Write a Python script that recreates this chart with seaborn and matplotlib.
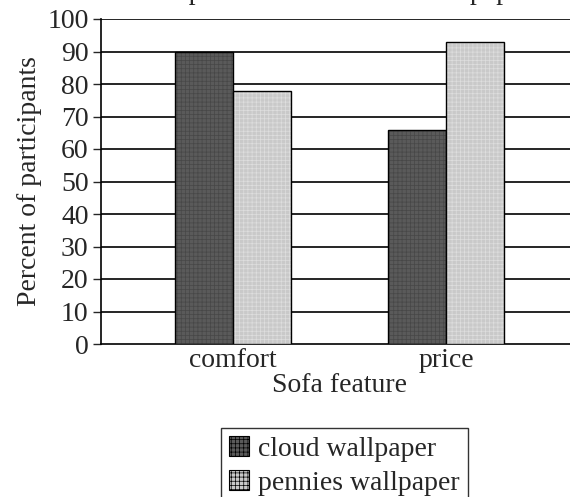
import pandas as pd
import matplotlib
matplotlib.use("Agg")
import matplotlib.pyplot as plt
import seaborn as sns

# === Data ===
features = ["comfort", "price"]
wallpapers = ["cloud wallpaper", "pennies wallpaper"]
cloud_pct = [90, 66]
pennies_pct = [78, 93]
y_ticks = list(range(0, 101, 10))

df = pd.DataFrame({
    "feature": features * 2,
    "wallpaper": [wallpapers[0]] * 2 + [wallpapers[1]] * 2,
    "percent": cloud_pct + pennies_pct,
})

# === Style ===
sns.set_style("white")
plt.rcParams["font.family"] = ["Liberation Serif", "DejaVu Serif"]
plt.rcParams["hatch.linewidth"] = 0.5
FS = 20

fig = plt.figure(figsize=(5.7, 4.97), dpi=100)
W, H = 570, 497
ax = fig.add_axes([101 / W, 1 - 344 / H, (578 - 101) / W, (344 - 19) / H])

palette = {wallpapers[0]: "#5a5a5a", wallpapers[1]: "#c9c9c9"}
sns.barplot(
    data=df, x="feature", y="percent", hue="wallpaper", order=features,
    hue_order=wallpapers, palette=palette, width=0.545, gap=0,
    edgecolor="black", linewidth=1.0, saturation=1, ax=ax, zorder=3,
)

# fine texture on the bars
hatch_cols = {0: "#474747", 1: "#dedede"}
for i, cont in enumerate(ax.containers):
    for bar in cont:
        bar.set_hatch("++++")
        bar._hatch_color = matplotlib.colors.to_rgba(hatch_cols[i])

# grid lines
for t in y_ticks[1:]:
    ax.axhline(t, color="black", lw=1.2, zorder=1)

ax.set_ylim(0, 100)
ax.set_xlim(-0.62, 1.62)
ax.set_yticks(y_ticks)
ax.tick_params(axis="y", direction="out", length=6, width=1, labelsize=FS, pad=3, left=True)
ax.tick_params(axis="x", length=0, labelsize=FS, pad=3)
for s in ["top", "right"]:
    ax.spines[s].set_visible(False)
for s in ["left", "bottom"]:
    ax.spines[s].set_color("black")
    ax.spines[s].set_linewidth(1.2)

ax.set_xlabel("Sofa feature", fontsize=FS, labelpad=0)
ax.set_ylabel("Percent of participants", fontsize=FS, labelpad=4)

# title, mostly cropped off the top of the canvas
fig.text(160 / W, 1.0 + 1 / H, "Top Feature with Each Wallpaper",
         ha="left", va="baseline", fontsize=FS)

ax.get_legend().remove()
handles = [matplotlib.patches.Patch(facecolor=palette[w], edgecolor="black",
                                    hatch="++++", lw=0.8) for w in wallpapers]
fig.legend(handles, wallpapers, loc="upper left",
           bbox_to_anchor=(221 / W, 1 - 428 / H), fontsize=FS,
           frameon=True, fancybox=False, edgecolor="black",
           handlelength=0.72, handleheight=0.72, handletextpad=0.3,
           borderpad=0.3, labelspacing=0.3, borderaxespad=0)

fig.savefig("out.png", dpi=100)
